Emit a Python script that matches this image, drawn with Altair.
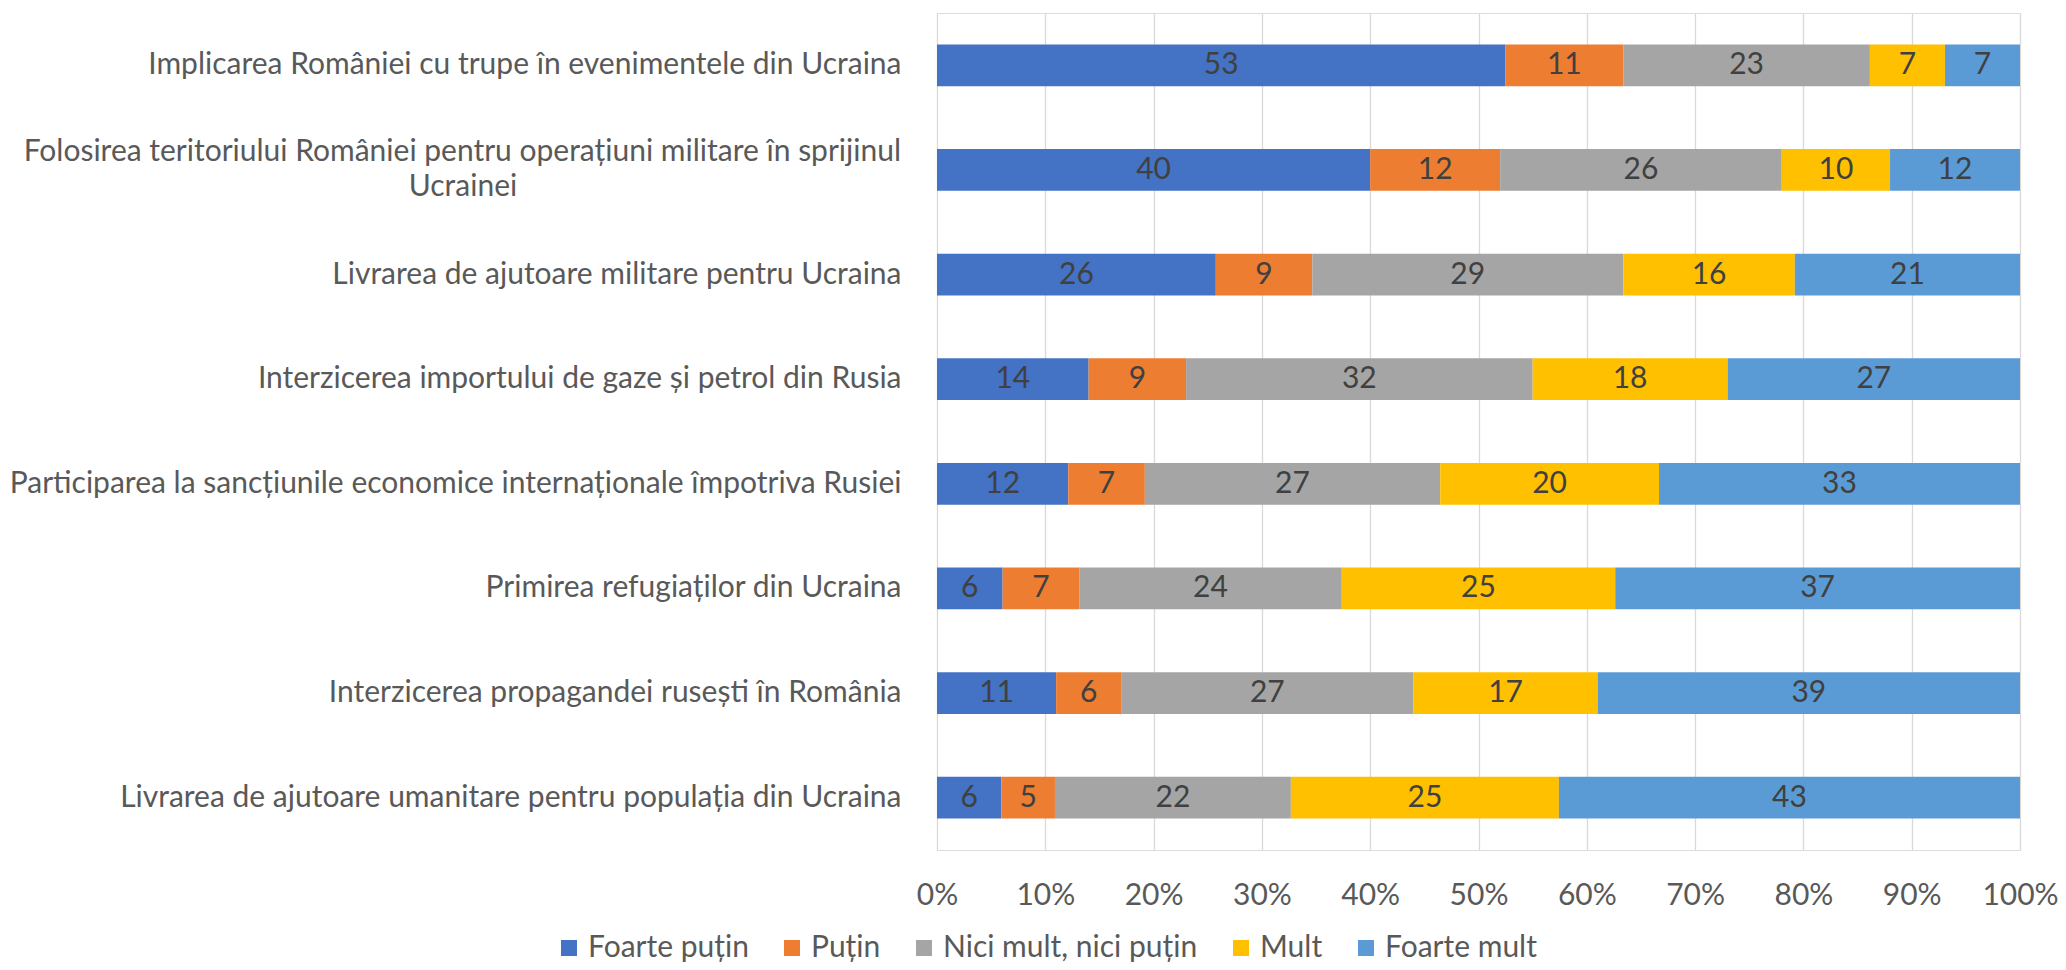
import altair as alt
import pandas as pd

categories = [
    "Implicarea României cu trupe în evenimentele din Ucraina",
    "Folosirea teritoriului României pentru operațiuni militare în sprijinul Ucrainei",
    "Livrarea de ajutoare militare pentru Ucraina",
    "Interzicerea importului de gaze și petrol din Rusia",
    "Participarea la sancțiunile economice internaționale împotriva Rusiei",
    "Primirea refugiaților din Ucraina",
    "Interzicerea propagandei rusești în România",
    "Livrarea de ajutoare umanitare pentru populația din Ucraina",
]
series = ["Foarte puțin", "Puțin", "Nici mult, nici puțin", "Mult", "Foarte mult"]
colors = ["#4472C4", "#ED7D31", "#A5A5A5", "#FFC000", "#5B9BD5"]

foarte_putin = [53, 40, 26, 14, 12, 6, 11, 6]
putin = [11, 12, 9, 9, 7, 7, 6, 5]
nici = [23, 26, 29, 32, 27, 24, 27, 22]
mult = [7, 10, 16, 18, 20, 25, 17, 25]
foarte_mult = [7, 12, 21, 27, 33, 37, 39, 43]

x_ticks = [0, 0.1, 0.2, 0.3, 0.4, 0.5, 0.6, 0.7, 0.8, 0.9, 1.0]

rows = []
for si, vals in enumerate([foarte_putin, putin, nici, mult, foarte_mult]):
    for ci, c in enumerate(categories):
        rows.append({"cat": c, "serie": series[si], "o": si, "v": vals[ci]})
df = pd.DataFrame(rows)

FONT = "Lato"
FS = 30
wrap_cat = categories[1]
wrap_first = "Folosirea teritoriului României pentru operațiuni militare în sprijinul"
wrap_second = "Ucrainei"

base = alt.Chart(df).transform_stack(
    stack="v", groupby=["cat"], as_=["x0", "x1"], offset="normalize",
    sort=[alt.SortField("o", order="ascending")],
).transform_calculate(xm="(datum.x0 + datum.x1) / 2")

y_enc = alt.Y(
    "cat:N", sort=categories, title=None,
    scale=alt.Scale(paddingInner=0.6, paddingOuter=0.3),
    axis=alt.Axis(
        labelFont=FONT, labelFontSize=FS, labelColor="#595959", labelPadding=36,
        ticks=False, domain=False, grid=False, labelLimit=1000,
        labelExpr=f"datum.value == '{wrap_cat}' ? '' : datum.value",
    ),
)

bars = base.mark_bar().encode(
    y=y_enc,
    x=alt.X(
        "x0:Q", title=None,
        scale=alt.Scale(domain=[0, 1], nice=False),
        axis=alt.Axis(
            format=".0%", values=x_ticks, labelFont=FONT, labelFontSize=FS,
            labelColor="#595959", labelPadding=30, ticks=False, domain=False,
            grid=True, gridColor="#D9D9D9", gridWidth=1.3,
            labelFlush=False, labelOverlap=False,
        ),
    ),
    x2="x1:Q",
    color=alt.Color(
        "serie:N", sort=series, scale=alt.Scale(domain=series, range=colors),
        legend=alt.Legend(
            title=None, orient="none", direction="horizontal", legendX=-383, legendY=920,
            labelFont=FONT, labelFontSize=FS, labelColor="#595959", labelLimit=600,
            symbolType="square", symbolSize=256, symbolStrokeWidth=0,
            columnPadding=28, labelOffset=4,
        ),
    ),
    order=alt.Order("o:Q"),
)

texts = base.mark_text(font=FONT, fontSize=FS, color="#404040", baseline="middle").encode(
    y=alt.Y("cat:N", sort=categories),
    x=alt.X("xm:Q"),
    text=alt.Text("v:Q"),
)

wrap1 = alt.Chart(pd.DataFrame({"cat": [wrap_cat], "t": [wrap_first]})).mark_text(
    font=FONT, fontSize=FS, color="#595959", align="right", baseline="middle", dy=-17.5
).encode(
    y=alt.Y("cat:N", sort=categories),
    x=alt.value(-36),
    text="t:N",
)
wrap2 = alt.Chart(pd.DataFrame({"cat": [wrap_cat], "t": [wrap_second]})).mark_text(
    font=FONT, fontSize=FS, color="#595959", align="center", baseline="middle", dy=17.5
).encode(
    y=alt.Y("cat:N", sort=categories),
    x=alt.value(-474),
    text="t:N",
)

chart = alt.layer(bars, texts, wrap1, wrap2).properties(
    width=1083, height=837,
    autosize=alt.AutoSizeParams(type="none"),
    padding={"left": 929, "top": 5, "right": 38, "bottom": 112},
).configure_view(stroke=None).configure(background="white")

chart.save("out.html", embed_options={"renderer": "svg", "actions": False})
